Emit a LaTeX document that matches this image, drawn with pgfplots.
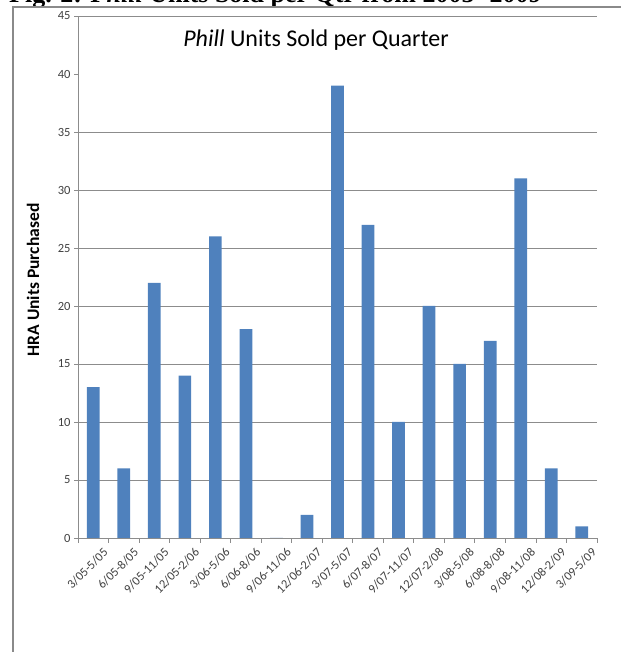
\documentclass[border=0pt]{standalone}
\usepackage{pgfplots}
\pgfplotsset{compat=1.18}
\usepackage{fontspec}
\setmainfont{Carlito}
\newfontfamily\capfont{Liberation Serif}
\definecolor{barblue}{HTML}{4F81BD}
\definecolor{gridgray}{HTML}{8C8C8C}
\definecolor{framegray}{HTML}{8A8A8A}
\definecolor{labgray}{HTML}{404040}
\begin{document}
\begin{tikzpicture}[x=1pt,y=1pt]
\useasboundingbox (0,0) rectangle (620,652);
% caption (cut off at top)
\node[anchor=base west,inner sep=0pt,font=\capfont\bfseries\fontsize{26}{30}\selectfont] at (9,649.5) {Fig. 2: \textit{Phill} Units Sold per Qtr from 2005- 2009};
% frame
\draw[framegray,line width=2pt] (13,-2) -- (13,645) -- (622,645);
\begin{axis}[
  at={(78pt,114pt)}, anchor=south west,
  scale only axis, width=519pt, height=522pt,
  ymin=0, ymax=45,
  xmin=-0.5, xmax=16.5,
  axis lines*=left,
  axis line style={gridgray, line width=0.8pt},
  ytick={0,5,...,45},
  extra y ticks={5,10,15,20,25,30,35,45},
  extra y tick labels={},
  extra y tick style={ymajorgrids=true, major tick length=0pt},
  major grid style={gridgray, line width=0.8pt},
  yticklabel style={font=\fontsize{12.5}{14}\selectfont, text=labgray},
  ytick style={gridgray, line width=0.8pt},
  tick align=outside,
  major tick length=4pt,
  xtick={0,...,16},
  xticklabels={3/05-5/05,6/05-8/05,9/05-11/05,12/05-2/06,3/06-5/06,6/06-8/06,9/06-11/06,12/06-2/07,3/07-5/07,6/07-8/07,9/07-11/07,12/07-2/08,3/08-5/08,6/08-8/08,9/08-11/08,12/08-2/09,3/09-5/09},
  x tick style={draw=none},
  extra x ticks={-0.5,0.5,...,16.5},
  extra x tick labels={},
  extra x tick style={x tick style={draw=gridgray, line width=0.8pt}, major tick length=5pt},
  xticklabel style={font=\fontsize{12.5}{14}\selectfont, text=labgray, rotate=45, anchor=north east, inner sep=0pt, yshift=-10pt, xshift=3pt},
  /pgf/number format/assume math mode=true,
  ybar, bar width=12.7pt,
  clip=false,
]
\addplot[fill=barblue, draw=none] coordinates {
(0,13) (1,6) (2,22) (3,14) (4,26) (5,18) (6,0) (7,2) (8,39) (9,27) (10,10) (11,20) (12,15) (13,17) (14,31) (15,6) (16,1)
};
\end{axis}
\node[anchor=base, font=\fontsize{24}{28}\selectfont] at (316,605) {\textit{Phill} Units Sold per Quarter};
\node[rotate=90, font=\bfseries\fontsize{17.5}{20}\selectfont] at (33,372) {HRA Units Purchased};
\end{tikzpicture}
\end{document}
